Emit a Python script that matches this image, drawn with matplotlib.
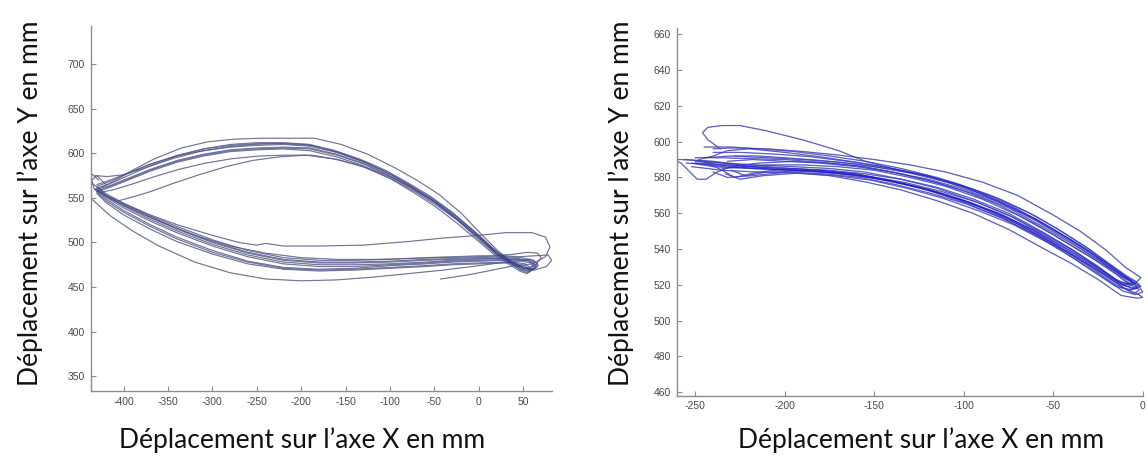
import matplotlib
matplotlib.use("Agg")
import matplotlib.pyplot as plt

plt.rcParams["axes.unicode_minus"] = False

# ---------------- Left panel: trajectories (x, y in mm) ----------------
L1_x = [-430,-415,-395,-370,-340,-310,-280,-250,-220,-190,-160,-130,-100,-75,-50,-25,0,20,38,
        48,58,65,60,45,
        30,0,-30,-60,-100,-140,-180,-220,-260,-300,-340,-370,-400,-420,-432]
L1_y = [560,564,572,582,592,599,604,606,607,606,599,589,575,561,546,527,506,488,476,
        470,468,472,479,481,
        481,480,479,477,475,473,473,476,484,496,511,524,539,551,560]

L2_x = [-425,-410,-390,-365,-335,-305,-275,-245,-215,-185,-155,-125,-95,-70,-45,-20,2,22,40,
        50,60,67,62,48,
        30,0,-30,-60,-100,-140,-180,-220,-260,-300,-340,-370,-400,-420,-428]
L2_y = [562,569,581,594,606,613,616,617,617,617,610,599,584,570,554,533,510,490,477,
        471,469,474,480,483,
        484,483,482,481,479,478,478,481,489,501,516,529,543,553,562]

L3_x = [-428,-412,-392,-368,-338,-308,-278,-248,-218,-188,-158,-128,-98,-72,-48,-23,0,20,38,
        47,55,60,52,40,
        30,0,-30,-60,-100,-140,-180,-220,-260,-300,-340,-370,-400,-420,-430]
L3_y = [556,559,565,573,582,589,594,597,598,598,593,584,571,557,542,524,503,486,475,
        469,466,470,476,478,
        478,477,476,474,472,470,469,471,478,489,504,518,534,547,556]

L4_x = [-430,-415,-395,-370,-340,-310,-280,-250,-220,-190,-160,-130,-100,-75,-50,-25,0,20,38,
        52,62,66,58,44,
        30,0,-40,-80,-120,-160,-200,-240,-280,-320,-360,-390,-415,-435]
L4_y = [565,570,578,588,597,603,607,609,610,608,601,591,577,563,548,529,508,489,477,
        472,470,476,481,479,
        478,474,469,465,461,458,457,459,466,478,496,513,530,548]

L5_x = [-430,-415,-395,-370,-340,-310,-280,-250,-220,-190,-160,-130,-100,-75,-50,-25,0,20,38,
        45,60,75,80,75,60,30,0,-40,-80,-130,-180,-220,-240,-250,-270,-300,-340,-370,-400,-420,-432]
L5_y = [558,563,571,581,591,598,603,605,606,605,598,588,574,560,545,526,505,487,475,
        474,476,484,495,506,511,511,508,505,501,497,496,496,499,497,500,508,520,531,544,553,560]

L6_x = [-405,-390,-370,-345,-315,-285,-255,-225,-195,-165,-135,-105,-78,-52,-26,0,20,38,
        50,60,64,55,42,
        30,0,-30,-60,-100,-140,-180,-220,-260,-300,-340,-370,-400,-420,-430]
L6_y = [547,551,557,566,576,585,592,596,598,594,587,576,563,548,530,508,490,478,
        472,470,475,480,481,
        482,482,481,480,478,477,477,480,488,500,515,528,542,553,561]

L7_x = [-432,-418,-400,-375,-345,-315,-285,-255,-225,-195,-165,-135,-105,-80,-55,-30,-5,15,35,
        46,56,62,57,44,
        30,0,-30,-60,-100,-140,-180,-220,-260,-300,-340,-370,-400,-420,-430]
L7_y = [575,574,576,584,594,602,607,610,611,610,604,594,581,567,552,534,512,493,479,
        473,470,474,479,482,
        483,481,480,478,476,475,475,478,486,498,513,526,541,552,560]

L8_x = [-430,-415,-395,-370,-340,-310,-280,-250,-220,-190,-160,-130,-100,-75,-50,-25,0,20,38,
        47,57,63,58,44,
        30,0,-30,-60,-100,-140,-180,-220,-260,-300,-340,-370,-400,-420,-433,-436,-430,-420]
L8_y = [561,566,575,586,597,605,610,612,612,610,602,591,577,562,546,527,505,487,475,
        470,467,471,477,480,
        480,479,478,476,474,471,470,472,479,491,506,520,536,549,560,570,575,565]

L9_x = [-430,-415,-395,-370,-340,-310,-280,-250,-220,-190,-160,-130,-100,-75,-50,-25,0,20,38,
        46,54,58,52,40,
        30,0,-30,-60,-100,-140,-180,-220,-260,-300,-340,-370,-400,-420,-430]
L9_y = [557,562,570,580,590,597,602,604,605,603,596,586,572,557,541,522,501,484,473,
        468,465,468,474,477,
        477,476,475,473,471,469,468,470,476,487,501,515,531,545,555]

L10_x = [-430,-414,-394,-369,-339,-309,-279,-249,-219,-189,-159,-129,-99,-74,-49,-24,1,21,39,
         49,62,76,82,78,62,45,
         30,0,-30,-60,-100,-140,-180,-220,-260,-300,-340,-370,-400,-420,-435,-437,-428]
L10_y = [563,569,578,588,598,605,609,611,611,609,601,590,576,561,545,526,505,487,476,
         471,469,473,480,486,485,484,
         485,485,484,483,481,480,480,483,491,503,518,530,544,555,566,578,570]

L11_x = [-43,-10,20,40,55,65,70,66,55,40,20,0,-40,-80,-120,-160,-200,-240,-280,-320,-360,-390,-415,-430]
L11_y = [459,464,470,474,471,476,483,488,489,487,485,484,483,482,481,481,483,488,496,508,524,537,549,558]

left_x = [L1_x, L2_x, L3_x, L4_x, L5_x, L6_x, L7_x, L8_x, L9_x, L10_x, L11_x]
left_y = [L1_y, L2_y, L3_y, L4_y, L5_y, L6_y, L7_y, L8_y, L9_y, L10_y, L11_y]

# ---------------- Right panel: trajectories (x, y in mm) ----------------
R1_x = [-245,-230,-210,-190,-170,-150,-130,-110,-90,-70,-50,-35,-20,-10,-4,-2,-5,
        -12,-25,-40,-55,-75,-95,-115,-135,-155,-175,-195,-215,-235,-250]
R1_y = [591,592,591,590,588.5,586,582.5,577.5,571,562,551,542,532,524,520,517,515,
        519,528,537,546,557,565.5,572,577,580.5,583,584,585,586,588]

R2_x = [-240,-230,-210,-190,-170,-150,-130,-110,-90,-70,-50,-35,-20,-10,-4,-1,-4,
        -12,-25,-40,-55,-75,-95,-115,-135,-155,-175,-195,-215,-235,-250]
R2_y = [596,596.5,596,594.5,592.5,590,587,583,577.5,570,559,550,539,530,526,524,521,
        521,530,540,548,559,567,574,579,583,585,586,587,588,589]

R3_x = [-250,-230,-210,-190,-170,-150,-130,-110,-90,-70,-50,-35,-20,-10,-3,0,-3,
        -12,-25,-40,-55,-75,-95,-115,-135,-155,-175,-195,-215,-235,-252]
R3_y = [588,587,585.5,584,582,579.5,575.5,570,563,554,543,534,525,518,515,513,512.5,
        514,523,532,540,551,560,567,573,577.5,581,582.5,583,584,586]

R4_x = [-235,-220,-210,-190,-170,-150,-130,-110,-90,-70,-50,-35,-20,-10,-5,-3,-8,
        -15,-28,-42,-58,-78,-98,-118,-138,-158,-178,-198,-218,-232,-240]
R4_y = [585,586,587,587,586,584,580,575,568,559,548,539,530,522,519,518,517,
        520,529,538,547,557,565,571,576,580,582,583,581,580,583]

R5_x = [-236,-243,-246,-243,-235,-225,-210,-190,-170,-155,-140,-120,-100,-80,-60,-40,-25,-12,-5,-3,-8,
        -15,-30,-45,-62,-80,-100,-120,-140,-160,-180,-200,-220,-240,-255]
R5_y = [596,601,605,608,609,609,606,601,595,589,585,581,575,566,556,544,534,525,521,518,517.5,
        519,529,539,549,558,566,573,578,582,584,585,586,587,588]

R6_x = [-262,-258,-253,-249,-244,-238,-230,-215,-195,-175,-155,-135,-115,-95,-75,-55,-38,-22,-12,-6,-5,-9,
        -16,-30,-45,-60,-80,-100,-120,-140,-160,-180,-200,-220,-240,-258,-262]
R6_y = [590,588,583,579,579,583,586,588,589,588,586,582,577,571,563,552,542,532,525,522,520,519,
        522,531,540,549,559,567,573,578,582,584,584,586,589,590,590]

R7_x = [-245,-230,-215,-195,-175,-155,-135,-115,-95,-75,-55,-40,-25,-12,-6,-4,-8,
        -14,-26,-40,-55,-75,-95,-115,-135,-155,-175,-195,-215,-228,-235,-245]
R7_y = [597,597,596,594.5,592,589,585,580,573.5,565,554,545,535,526,522,520.5,520,
        522,531,540,549,560,568,574.5,579,582,584,585,583,580,584,589]

R8_x = [-250,-235,-220,-200,-180,-160,-140,-120,-100,-80,-60,-45,-30,-18,-10,-7,-12,
        -18,-32,-47,-62,-82,-102,-122,-142,-162,-182,-202,-220,-240,-252]
R8_y = [591,591,590.5,590,588.5,586.5,583,578.5,572.5,564.5,554,545,536,528,523,520.5,520,
        524,533,542,551,560.5,567.5,573.5,578,581.5,583.5,584.5,585,586,588]

R9_x = [-228,-215,-200,-180,-160,-140,-120,-100,-80,-60,-45,-30,-18,-9,-3,-1,-5,
        -11,-24,-38,-53,-72,-92,-112,-132,-152,-172,-192,-210,-222,-230]
R9_y = [592,592,591,589.5,587.5,584.5,580.5,575,568,558.5,549.5,540,531,524.5,521,519,518,
        520,529,538.5,547.5,557.5,566,572,577,580.5,582.5,583.5,583,581,584]

R10_x = [-240,-225,-205,-185,-165,-145,-125,-105,-85,-65,-48,-33,-19,-9,-4,-2,-6,
         -13,-27,-42,-58,-78,-98,-118,-138,-158,-178,-198,-218,-236,-248]
R10_y = [594,594,593,591.5,589,586,582,577,570,561,551.5,542,532,525,522,519.5,518,
         521,530.5,540,549,559,566.5,572.5,577.5,581,583,584,585,587,589]

R11_x = [-232,-218,-200,-180,-160,-140,-120,-100,-80,-60,-45,-30,-17,-8,-2,0,-4,
         -11,-24,-38,-53,-72,-92,-112,-132,-152,-172,-192,-212,-225,-233]
R11_y = [589,590,589,588,586,583,579,573.5,566,557,548,539,530,523.5,519,516,514.5,
         516.5,525.5,534.5,543.5,553.5,561.5,568.5,574,578.5,581,582.5,581,579,582]

R12_x = [-248,-240,-232,-220,-200,-180,-160,-140,-120,-100,-80,-60,-42,-28,-15,-7,-5,-9,
         -15,-30,-45,-62,-82,-102,-122,-142,-162,-182,-202,-222,-242,-256]
R12_y = [590,592,595,596,594,591.5,588.5,585,580.5,574.5,566.5,556.5,546,537,527.5,522.5,521,520.5,
         523,532.5,541.5,551,560.5,568,574,578.5,582,584,585.5,587,589,590]

right_x = [R1_x, R2_x, R3_x, R4_x, R5_x, R6_x, R7_x, R8_x, R9_x, R10_x, R11_x, R12_x]
right_y = [R1_y, R2_y, R3_y, R4_y, R5_y, R6_y, R7_y, R8_y, R9_y, R10_y, R11_y, R12_y]

left_xticks = [-400, -350, -300, -250, -200, -150, -100, -50, 0, 50]
left_yticks = [350, 400, 450, 500, 550, 600, 650, 700]
right_xticks = [-250, -200, -150, -100, -50, 0]
right_yticks = [460, 480, 500, 520, 540, 560, 580, 600, 620, 640, 660]

xlabel_text = "Déplacement sur l\u2019axe X en mm"
ylabel_text = "Déplacement sur l\u2019axe Y en mm"

# ---------------- Figure ----------------
fig = plt.figure(figsize=(11.48, 4.59), dpi=100)
fig.patch.set_facecolor("white")

axL = fig.add_axes([0.079, 0.1475, 0.4016, 0.796])
axR = fig.add_axes([0.5895, 0.1379, 0.4062, 0.801])


def style(ax, xticks, yticks, xlim, ylim):
    ax.set_xlim(*xlim)
    ax.set_ylim(*ylim)
    ax.set_xticks(xticks)
    ax.set_yticks(yticks)
    for s in ("top", "right"):
        ax.spines[s].set_visible(False)
    for s in ("left", "bottom"):
        ax.spines[s].set_color("#8c8c8c")
        ax.spines[s].set_linewidth(1.0)
    ax.tick_params(direction="in", length=3.5, width=0.8, color="#8c8c8c",
                   labelsize=7.5, labelcolor="#4a4a4a", pad=4)
    for lab in ax.get_xticklabels() + ax.get_yticklabels():
        lab.set_family("Liberation Sans")


for xs, ys in zip(left_x, left_y):
    axL.plot(xs, ys, color="#9a9ba8", lw=0.9, solid_joinstyle="round")
for xs, ys in zip(left_x, left_y):
    axL.plot(xs, ys, color="#10208a", lw=0.5, alpha=0.4)

for xs, ys in zip(right_x, right_y):
    axR.plot(xs, ys, color="#9d9dbb", lw=1.0, solid_joinstyle="round")
for xs, ys in zip(right_x, right_y):
    axR.plot(xs, ys, color="#1414d8", lw=0.6, alpha=0.55)

style(axL, left_xticks, left_yticks, (-437, 82), (333, 743))
style(axR, right_xticks, right_yticks, (-260.4, 0.2), (458, 663.5))

lab_kw = dict(family="Lato", fontsize=19, color="#111111")
fig.text(302 / 1148, 1 - 440 / 459, xlabel_text, ha="center", va="center", **lab_kw)
fig.text(921 / 1148, 1 - 440 / 459, xlabel_text, ha="center", va="center", **lab_kw)
fig.text(30 / 1148, 1 - 203 / 459, ylabel_text, ha="center", va="center", rotation=90, **lab_kw)
fig.text(621 / 1148, 1 - 203 / 459, ylabel_text, ha="center", va="center", rotation=90, **lab_kw)

fig.savefig("out.png", dpi=100, facecolor="white")
